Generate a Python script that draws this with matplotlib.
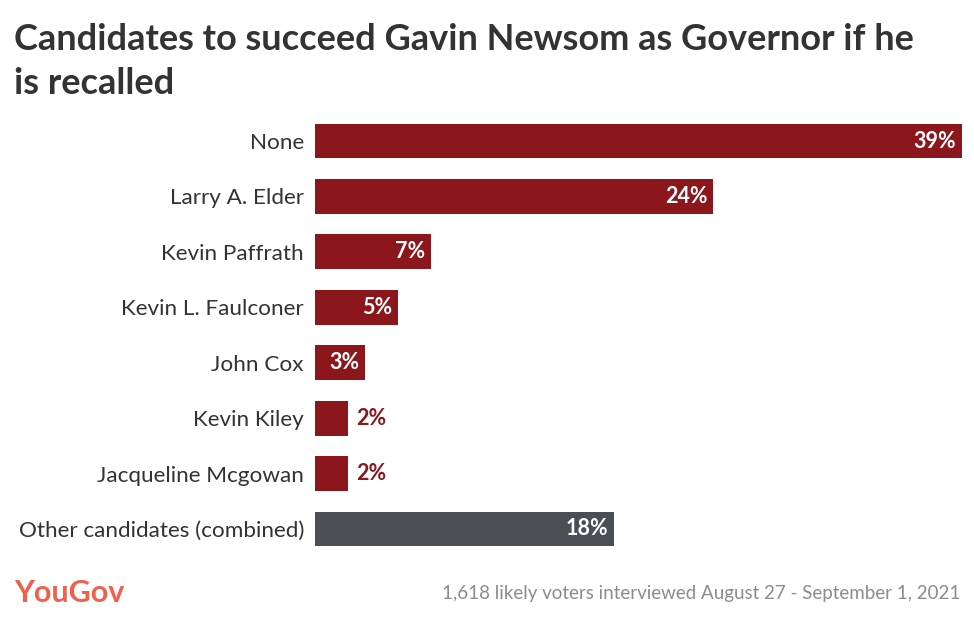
import matplotlib.pyplot as plt

plt.rcParams['font.family'] = ['Lato', 'DejaVu Sans']

# data
candidates = ["None", "Larry A. Elder", "Kevin Paffrath", "Kevin L. Faulconer",
              "John Cox", "Kevin Kiley", "Jacqueline Mcgowan", "Other candidates (combined)"]
shares = [39, 24, 7, 5, 3, 2, 2, 18]
bar_colors = ["#8b161b"] * 7 + ["#4b4e52"]

fig = plt.figure(figsize=(9.74, 6.18), dpi=100)
ax = fig.add_axes([315 / 974, 1 - 556.7 / 618, (962 - 315) / 974, (556.7 - 113.3) / 618])

ypos = list(range(len(candidates)))
ax.barh(ypos, shares, height=0.63, color=bar_colors)
ax.set_xlim(0, 39)
ax.set_ylim(len(candidates) - 0.5, -0.5)

# value labels: inside the bar in white, outside in red when the bar is too short
for y, v, c in zip(ypos, shares, bar_colors):
    if v >= 3:
        ax.annotate(f"{v}%", (v, y), xytext=(-4, 0), textcoords="offset points",
                    ha="right", va="center", color="white", fontsize=15.5, fontweight="bold")
    else:
        ax.annotate(f"{v}%", (v, y), xytext=(6, 0), textcoords="offset points",
                    ha="left", va="center", color=c, fontsize=15.5, fontweight="bold")

ax.set_yticks(ypos)
ax.set_yticklabels(candidates, fontsize=16.2, color="#333333")
ax.tick_params(axis="y", length=0, pad=8)
ax.set_xticks([])
for s in ax.spines.values():
    s.set_visible(False)

fig.text(14 / 974, 1 - 23 / 618, "Candidates to succeed Gavin Newsom as Governor if he\nis recalled",
         ha="left", va="top", fontsize=26, fontweight="bold", color="#333333", linespacing=1.42)
fig.text(14 / 974, 1 - 593 / 618, "YouGov", ha="left", va="center", fontsize=22,
         fontweight="bold", color="#f0604d")
fig.text(960 / 974, 1 - 593 / 618, "1,618 likely voters interviewed August 27 - September 1, 2021",
         ha="right", va="center", fontsize=13.5, color="#8c8c8c")

fig.savefig("out.png", dpi=100)
